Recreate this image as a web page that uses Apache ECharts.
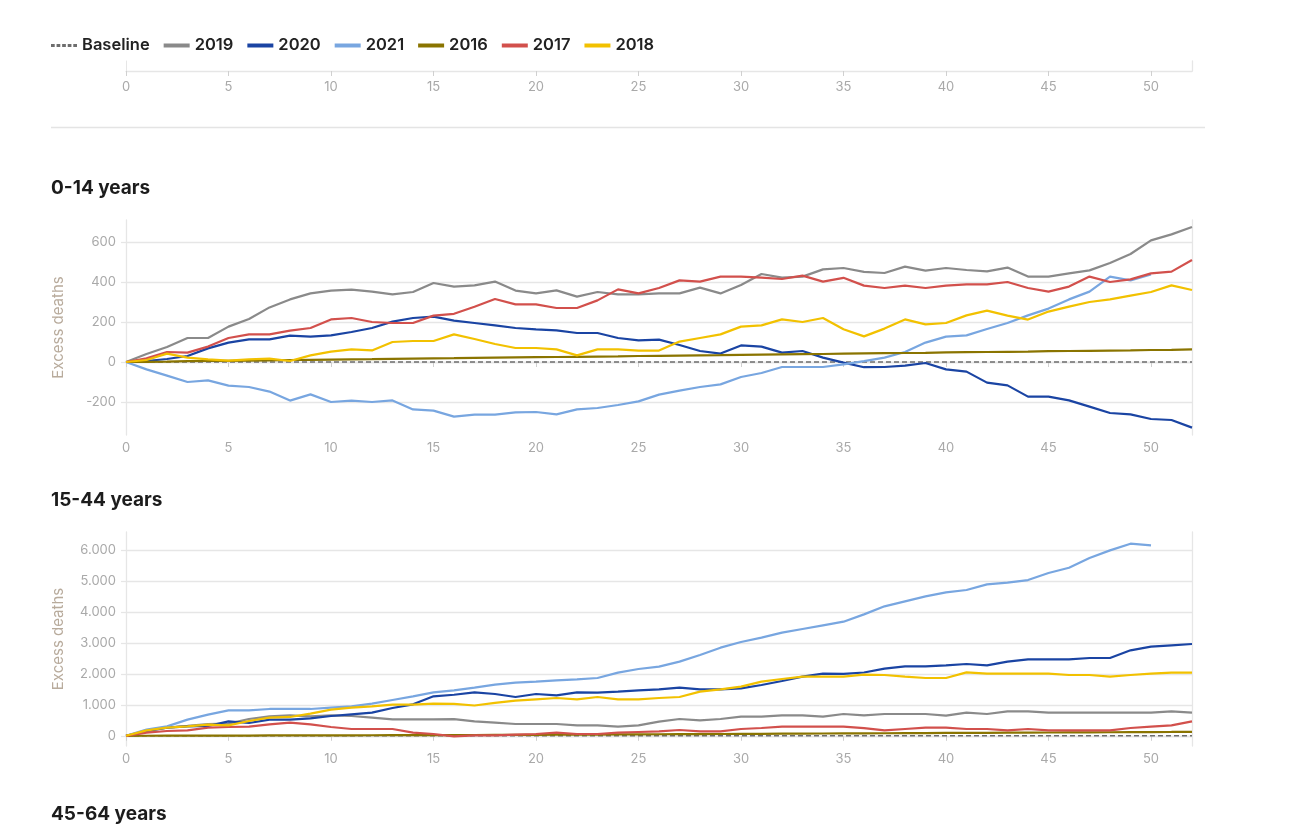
<!DOCTYPE html>
<html>
<head>
<meta charset="utf-8">
<script src="https://cdn.jsdelivr.net/npm/echarts@6/dist/echarts.min.js"></script>
<style>
  html, body { margin: 0; padding: 0; background: #fff; }
  #chart { width: 1307px; height: 836px; }
</style>
</head>
<body>
<div id="chart"></div>
<script>
// weeks on the x axis
var weeks = [0,1,2,3,4,5,6,7,8,9,10,11,12,13,14,15,16,17,18,19,20,21,22,23,24,25,26,
  27,28,29,30,31,32,33,34,35,36,37,38,39,40,41,42,43,44,45,46,47,48,49,50,51,52];

var seriesNames = ['2019', '2020', '2021', '2016', '2017', '2018'];
var seriesColors = ['#8a8a8a', '#1a44a3', '#78a6e0', '#8a7400', '#d2504c', '#f2c100'];
var baseline = [[0, 0], [52, 0]];

// 0-14 years, cumulative excess deaths
var kids2019 = [0,40,75,120,120,177,215,273,313,343,357,362,352,338,350,395,377,383,402,357,
  343,358,327,350,338,338,343,343,372,343,385,440,422,427,463,470,451,445,477,457,
  470,460,453,472,427,427,443,458,495,540,608,638,675];
var kids2020 = [0,5,15,30,68,97,113,113,132,127,133,150,170,202,220,227,207,195,183,170,
  163,158,145,145,120,108,112,85,55,42,83,77,47,55,22,-3,-26,-25,-18,-5,
  -37,-48,-103,-117,-173,-173,-192,-223,-255,-262,-285,-290,-328];
var kids2021 = [0,-37,-68,-100,-92,-118,-125,-148,-193,-162,-200,-193,-200,-192,-237,-243,-273,-263,-263,-252,
  -250,-262,-237,-230,-215,-197,-163,-143,-125,-112,-75,-55,-25,-25,-25,-12,4,22,50,97,
  127,133,165,195,233,267,313,352,427,408,438,null,null];
var kids2016 = [0,1,2,4,5,6,7,8,10,11,12,13,14,16,17,18,19,21,22,23,
  24,25,26,27,28,30,31,32,33,34,36,37,38,39,40,42,43,44,45,46,
  48,49,50,51,52,54,55,56,57,58,60,61,63];
var kids2017 = [0,18,50,47,77,120,138,138,157,170,213,220,200,195,195,232,241,276,315,288,
  288,270,270,308,363,343,370,408,402,427,427,422,415,432,402,421,382,370,382,370,
  382,388,388,400,370,352,377,427,400,413,443,452,510];
var kids2018 = [0,10,42,22,13,7,13,17,5,33,52,63,58,100,105,105,138,115,90,70,
  70,63,33,63,63,57,57,102,120,138,177,183,213,200,220,164,128,167,213,188,
  195,233,257,232,212,252,277,300,313,332,350,383,360];

// 15-44 years
var adult2019 = [0,150,264,320,380,394,545,631,664,631,664,642,588,534,534,534,540,470,426,383,
  383,383,340,340,297,340,459,545,502,545,620,620,664,664,620,707,664,707,707,707,
  653,750,707,793,793,750,750,750,750,750,750,793,750];
var adult2020 = [0,156,264,307,318,469,415,523,523,566,642,696,750,901,1020,1279,1330,1408,1354,1257,
  1354,1311,1408,1397,1430,1473,1505,1560,1505,1505,1538,1645,1775,1915,2012,2006,2050,2174,2250,2250,
  2282,2325,2282,2401,2477,2477,2477,2520,2520,2768,2886,2929,2973];
var adult2021 = [0,200,307,523,685,825,825,869,869,869,912,955,1041,1160,1279,1408,1473,1560,1660,1721,
  1753,1797,1829,1872,2045,2164,2239,2401,2617,2854,3037,3178,3340,3458,3577,3695,3933,4193,4354,4516,
  4646,4721,4904,4958,5044,5271,5444,5757,6005,6221,6167,null,null];
var adult2016 = [0,2,3,5,6,8,9,11,12,14,15,17,18,20,21,23,25,27,29,31,
  33,35,38,41,44,47,50,53,56,59,62,65,68,71,74,77,80,83,86,89,
  92,95,98,101,104,107,110,113,116,119,122,125,130];
var adult2017 = [0,102,156,178,264,286,297,372,426,372,286,221,221,221,102,59,-16,15,15,38,
  59,102,59,59,102,124,146,189,146,146,221,253,297,297,297,297,250,178,221,264,
  264,221,221,178,221,178,178,178,178,253,297,340,469];
var adult2018 = [0,178,264,307,361,340,480,588,610,718,847,912,955,1009,1009,1041,1036,982,1068,1138,
  1182,1225,1182,1257,1182,1182,1225,1257,1430,1505,1592,1753,1840,1915,1915,1915,1980,1969,1915,1872,
  1872,2055,2012,2012,2012,2012,1969,1969,1915,1969,2012,2045,2045];

var kidsData = [kids2019, kids2020, kids2021, kids2016, kids2017, kids2018];
var adultData = [adult2019, adult2020, adult2021, adult2016, adult2017, adult2018];

var gridLine = '#e6e6e6';
var labelColor = '#a9a9a9';
var font = 'Inter, "Noto Sans", sans-serif';
// dashed icon for the baseline legend entry
var dashIcon = 'path://M0,0h4v3h-4z M6,0h4v3h-4z M12,0h4v3h-4z M18,0h4v3h-4z M24,0h4v3h-4z';

function dotThousands(v) {
  return String(v).replace(/\B(?=(\d{3})+(?!\d))/g, '.');
}

function xAxisFor(i, margin) {
  return {
    type: 'category', gridIndex: i, data: weeks, boundaryGap: false,
    axisLine: { lineStyle: { color: gridLine, width: 1.3 } },
    axisTick: { interval: 4, length: 5, lineStyle: { color: '#d0d0d0' } },
    axisLabel: { interval: 4, color: labelColor, fontSize: 13, margin: margin, fontFamily: font },
    splitLine: { show: false }
  };
}

function leftY(i, min, max, fmt) {
  return {
    type: 'value', gridIndex: i, min: min, max: max,
    name: 'Excess deaths', nameLocation: 'middle', nameGap: 60,
    nameTextStyle: { color: '#b8ab9c', fontSize: 15, fontFamily: font },
    axisLine: { show: true, lineStyle: { color: gridLine, width: 1.3 } },
    axisTick: { show: true, length: 5, lineStyle: { color: gridLine, width: 1.3 } },
    axisLabel: { color: labelColor, fontSize: 13, margin: 10, showMinLabel: false, showMaxLabel: false, formatter: fmt, fontFamily: font },
    splitLine: { show: true, showMinLine: false, showMaxLine: false, lineStyle: { color: gridLine, width: 1.3 } }
  };
}

function rightY(i, min, max) {
  return {
    type: 'value', gridIndex: i, min: min, max: max, position: 'right',
    axisLine: { show: true, lineStyle: { color: gridLine, width: 1.3 } },
    axisTick: { show: false }, axisLabel: { show: false }, splitLine: { show: false }
  };
}

var series = [];
function addChart(xi, yi, values) {
  series.push({
    name: 'Baseline', type: 'line', xAxisIndex: xi, yAxisIndex: yi,
    data: baseline, symbol: 'none', silent: true,
    lineStyle: { color: '#6e6e6e', width: 1.6, type: [5, 3] }, itemStyle: { color: '#6e6e6e' }
  });
  for (var k = 0; k < seriesNames.length; k++) {
    series.push({
      name: seriesNames[k], type: 'line', xAxisIndex: xi, yAxisIndex: yi,
      data: values[k], symbol: 'none', connectNulls: false,
      lineStyle: { color: seriesColors[k], width: 2.2 }, itemStyle: { color: seriesColors[k] }
    });
  }
}
addChart(1, 2, kidsData);
addChart(2, 4, adultData);

var legendData = [{ name: 'Baseline', icon: dashIcon }].concat(seriesNames.map(function (n) {
  return { name: n, icon: 'rect' };
}));

var titleStyle = { fontSize: 19, fontWeight: 'bold', color: '#1c1c1c', fontFamily: font };

var chart = echarts.init(document.getElementById('chart'));
chart.setOption({
  animation: false,
  title: [
    { text: '0-14 years', left: 46, top: 174, textStyle: titleStyle },
    { text: '15-44 years', left: 46, top: 486, textStyle: titleStyle },
    { text: '45-64 years', left: 46, top: 800, textStyle: titleStyle }
  ],
  legend: {
    left: 46, top: 32, itemWidth: 26, itemHeight: 4, itemGap: 14,
    data: legendData,
    textStyle: { color: '#222', fontSize: 16.5, fontWeight: 600, fontFamily: font }
  },
  grid: [
    { left: 126, right: 115, top: 61, height: 10 },
    { left: 126, right: 115, top: 220, height: 215 },
    { left: 126, right: 115, top: 532, height: 214 }
  ],
  xAxis: [xAxisFor(0, 10), xAxisFor(1, 7), xAxisFor(2, 7)],
  yAxis: [
    { type: 'value', gridIndex: 0, min: 0, max: 1, axisLine: { show: true, lineStyle: { color: gridLine } },
      axisTick: { show: false }, axisLabel: { show: false }, splitLine: { show: false } },
    rightY(0, 0, 1),
    leftY(1, -365, 710),
    rightY(1, -365, 710),
    leftY(2, -330, 6600, dotThousands),
    rightY(2, -330, 6600)
  ],
  graphic: [
    { type: 'line', shape: { x1: 51, y1: 127.5, x2: 1205, y2: 127.5 }, style: { stroke: '#e4e4e4', lineWidth: 1.3 } }
  ],
  series: series
});
</script>
</body>
</html>
